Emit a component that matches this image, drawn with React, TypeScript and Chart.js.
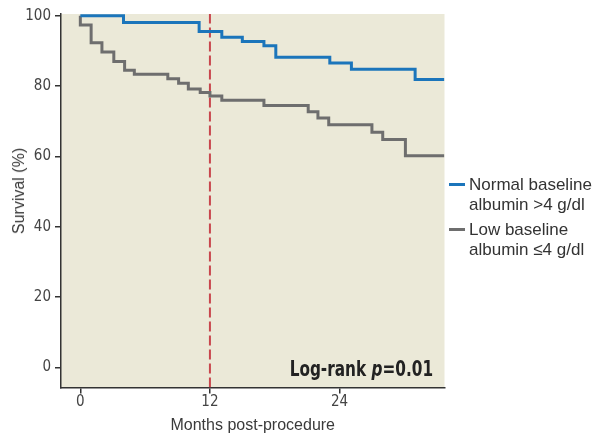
import React, { useEffect, useRef } from "react";
import { Chart, registerables } from "chart.js";

Chart.register(...registerables);

// ---- Data ----
const xTickValues = [0, 12, 24];
const yTickValues = [0, 20, 40, 60, 80, 100];
const xMin = -1.79;
const xMax = 33.72;
const yMin = -5.7;
const yMax = 100.5;

const normalTimes = [0, 4.0, 11.0, 13.1, 15.0, 17.0, 18.1, 23.1, 25.1, 31.0, 33.7];
const normalSurv = [100, 98.1, 95.5, 93.9, 92.7, 91.5, 88.2, 86.6, 84.8, 81.9, 81.9];

const lowTimes = [0, 0, 1.0, 2.0, 3.1, 4.1, 5.0, 8.1, 9.1, 10.0, 11.1, 12.0, 13.1, 17.0, 21.1, 22.0, 23.0, 27.0, 28.0, 30.1, 33.7];
const lowSurv = [100, 97.4, 92.3, 89.7, 87.0, 84.5, 83.4, 82.1, 80.8, 79.2, 78.2, 77.2, 76.0, 74.5, 72.7, 70.9, 69.0, 66.9, 64.8, 60.2, 60.2];

const landmarkMonth = 12;

const seriesLabels = ["Normal baseline albumin >4 g/dl", "Low baseline albumin \u22644 g/dl"];

const NARROW = "'Liberation Sans Narrow', 'DejaVu Sans Condensed', 'Roboto Condensed', 'Liberation Sans', sans-serif";
const REG = "'Liberation Sans', Arial, sans-serif";

const BLUE = "#1b75bb";
const GRAY = "#6e6e6e";
const RED = "#c8464d";
const AXIS = "#333333";

export default function App() {
  const ref = useRef<HTMLCanvasElement | null>(null);

  useEffect(() => {
    if (!ref.current) return;
    const bgPlugin = {
      id: "plotBg",
      beforeDraw(chart: any) {
        const { ctx, chartArea: a } = chart;
        ctx.save();
        ctx.fillStyle = "#ebe9d8";
        ctx.fillRect(a.left, a.top, a.right - a.left, a.bottom - a.top);
        ctx.restore();
      },
    };

    const chart = new Chart(ref.current, {
      type: "line",
      data: {
        datasets: [
          {
            label: seriesLabels[0],
            data: normalTimes.map((t, i) => ({ x: t, y: normalSurv[i] })),
            borderColor: BLUE,
            borderWidth: 3,
            stepped: "before",
            pointRadius: 0,
            fill: false,
            order: 1,
          },
          {
            label: seriesLabels[1],
            data: lowTimes.map((t, i) => ({ x: t, y: lowSurv[i] })),
            borderColor: GRAY,
            borderWidth: 3,
            stepped: "before",
            pointRadius: 0,
            fill: false,
            order: 2,
          },
          {
            label: "landmark",
            data: [
              { x: landmarkMonth, y: yMin },
              { x: landmarkMonth, y: yMax },
            ],
            borderColor: RED,
            borderWidth: 2,
            borderDash: [10, 4],
            pointRadius: 0,
            fill: false,
            order: 3,
          },
        ],
      },
      options: {
        responsive: false,
        animation: false,
        layout: { padding: { left: 0, right: 150.5, top: 14, bottom: 0 } },
        plugins: {
          legend: { display: false },
          tooltip: { enabled: false },
        },
        scales: {
          x: {
            type: "linear",
            min: xMin,
            max: xMax,
            afterBuildTicks: (s: any) => {
              s.ticks = xTickValues.map((v) => ({ value: v }));
            },
            afterFit: (s: any) => {
              s.height = 47.5;
            },
            grid: {
              display: true,
              drawOnChartArea: false,
              drawTicks: true,
              tickLength: 6,
              color: AXIS,
              lineWidth: 1.5,
            },
            border: { display: true, color: AXIS, width: 1.5 },
            ticks: {
              font: { family: NARROW, size: 15 },
              color: "#444",
              padding: 0,
              maxRotation: 0,
              autoSkip: false,
            },
            title: {
              display: true,
              text: "Months post-procedure",
              font: { family: REG, size: 16 },
              color: "#3a3a3a",
              padding: { top: 0, bottom: 0 },
            },
          },
          y: {
            type: "linear",
            min: yMin,
            max: yMax,
            afterBuildTicks: (s: any) => {
              s.ticks = yTickValues.map((v) => ({ value: v }));
            },
            afterFit: (s: any) => {
              s.width = 61;
            },
            grid: {
              display: true,
              drawOnChartArea: false,
              drawTicks: true,
              tickLength: 6,
              color: AXIS,
              lineWidth: 1.5,
            },
            border: { display: true, color: AXIS, width: 1.5 },
            ticks: {
              font: { family: NARROW, size: 15 },
              color: "#444",
              padding: 4,
              autoSkip: false,
            },
            title: { display: false },
          },
        },
      },
      plugins: [bgPlugin],
    } as any);

    return () => chart.destroy();
  }, []);

  return (
    <div
      style={{
        position: "fixed",
        left: 0,
        top: 0,
        width: 595,
        height: 435,
        background: "#ffffff",
        overflow: "hidden",
      }}
    >
      <canvas ref={ref} width={595} height={435} style={{ display: "block", width: 595, height: 435 }} />
      <div
        style={{
          position: "absolute",
          left: 19,
          top: 191,
          transform: "translate(-50%, -50%) rotate(-90deg)",
          font: `16px ${REG}`,
          lineHeight: "16px",
          color: "#3a3a3a",
          whiteSpace: "nowrap",
        }}
      >
        Survival (%)
      </div>
      {/* Legend */}
      <div style={{ position: "absolute", left: 449, top: 183, width: 16, height: 3, background: BLUE }} />
      <div
        style={{
          position: "absolute",
          left: 469,
          top: 175,
          font: `17px ${REG}`,
          lineHeight: "20px",
          color: "#333",
          whiteSpace: "nowrap",
        }}
      >
        Normal baseline
        <br />
        albumin &gt;4 g/dl
      </div>
      <div style={{ position: "absolute", left: 449, top: 228, width: 16, height: 3, background: GRAY }} />
      <div
        style={{
          position: "absolute",
          left: 469,
          top: 220,
          font: `17px ${REG}`,
          lineHeight: "20px",
          color: "#333",
          whiteSpace: "nowrap",
        }}
      >
        Low baseline
        <br />
        albumin {"\u2264"}4 g/dl
      </div>
      {/* Log-rank annotation */}
      <div
        style={{
          position: "absolute",
          right: 162,
          top: 359,
          font: `bold 21px ${NARROW}`,
          lineHeight: "21px",
          color: "#222",
          whiteSpace: "nowrap",
          transform: "scaleX(0.81)",
          transformOrigin: "right center",
        }}
      >
        Log-rank <i>p</i>=0.01
      </div>
    </div>
  );
}
